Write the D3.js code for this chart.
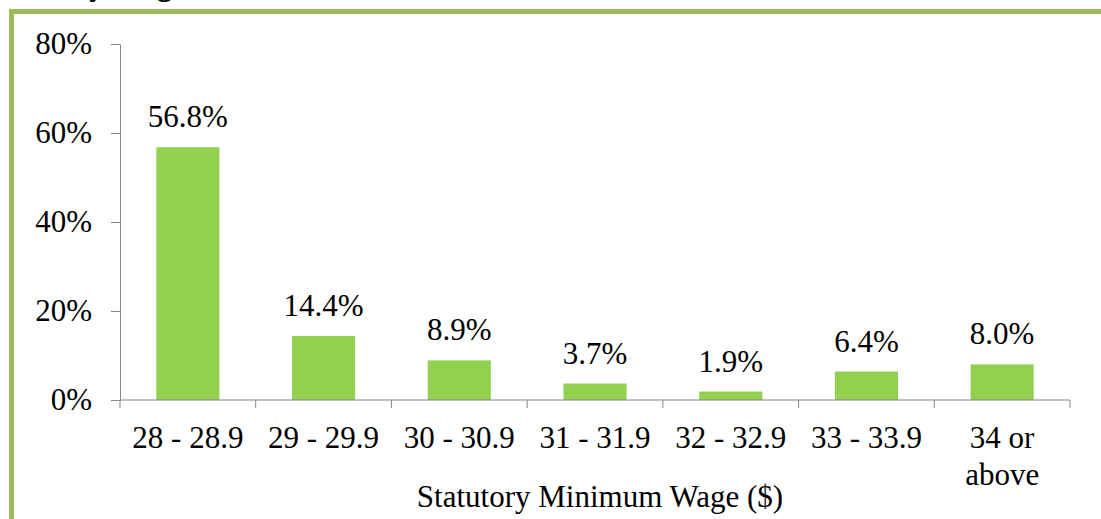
<!DOCTYPE html>
<html>
<head>
<meta charset="utf-8">
<script src="https://cdn.jsdelivr.net/npm/d3@7"></script>
<style>
  body { margin: 0; background: #fff; }
</style>
</head>
<body>
<svg id="chart" width="1101" height="519"></svg>
<script>
// data
var categories = ["28 - 28.9", "29 - 29.9", "30 - 30.9", "31 - 31.9", "32 - 32.9", "33 - 33.9", "34 or above"];
var catLines = [["28 - 28.9"], ["29 - 29.9"], ["30 - 30.9"], ["31 - 31.9"], ["32 - 32.9"], ["33 - 33.9"], ["34 or", "above"]];
var shares = [0.568, 0.144, 0.089, 0.037, 0.019, 0.064, 0.080];
var yTicks = [0, 0.2, 0.4, 0.6, 0.8];
var xTitle = "Statutory Minimum Wage ($)";

var serif = "'Liberation Serif'";
var svg = d3.select("#chart");
var axisColor = "#868686";
var fontSize = 31;

// frame left over from the slide (top + left green edge)
svg.append("rect").attr("x", 9).attr("y", 9).attr("width", 1092).attr("height", 5).attr("fill", "#9BBB59");
svg.append("rect").attr("x", 9).attr("y", 9).attr("width", 5).attr("height", 510).attr("fill", "#9BBB59");
// cut-off title above the frame
svg.append("text").attr("x", 72).attr("y", -5)
  .style("font-family", serif).style("font-size", "31px").style("font-weight", "bold")
  .text("by Wage");

var x = d3.scaleBand().domain(categories).range([120, 1070]).padding(0);
var y = d3.scaleLinear().domain([0, 0.8]).range([400, 44]);
var barW = x.bandwidth() * 0.465;

// y axis
var yAxis = svg.append("g")
  .attr("transform", "translate(120,0)")
  .call(d3.axisLeft(y).tickValues(yTicks).tickFormat(d3.format(".0%")).tickSizeInner(9).tickSizeOuter(0).tickPadding(19));
yAxis.attr("font-family", null).attr("font-size", null);
yAxis.select(".domain").attr("stroke", axisColor);
yAxis.selectAll(".tick line").attr("stroke", axisColor);
yAxis.selectAll(".tick text")
  .style("font-size", fontSize + "px")
  .style("font-family", serif)
  .attr("fill", "#000");

// bars
svg.selectAll(".bar")
  .data(shares)
  .enter().append("rect")
  .attr("class", "bar")
  .attr("x", function(d, i) { return x(categories[i]) + (x.bandwidth() - barW) / 2; })
  .attr("y", function(d) { return y(d); })
  .attr("width", barW)
  .attr("height", function(d) { return y(0) - y(d); })
  .attr("fill", "#92D050");

// value labels
svg.selectAll(".val")
  .data(shares)
  .enter().append("text")
  .attr("class", "val")
  .attr("x", function(d, i) { return x(categories[i]) + x.bandwidth() / 2; })
  .attr("y", function(d) { return y(d) - 20; })
  .attr("text-anchor", "middle")
  .style("font-family", serif)
  .style("font-size", fontSize + "px")
  .text(function(d) { return d3.format(".1%")(d); });

// x axis line and boundary ticks
svg.append("line")
  .attr("x1", x.range()[0]).attr("x2", x.range()[1])
  .attr("y1", y(0)).attr("y2", y(0))
  .attr("stroke", axisColor);
var bounds = categories.map(function(c) { return x(c); }).concat([x.range()[1]]);
svg.selectAll(".xtick")
  .data(bounds)
  .enter().append("line")
  .attr("class", "xtick")
  .attr("x1", function(d) { return d; }).attr("x2", function(d) { return d; })
  .attr("y1", y(0)).attr("y2", y(0) + 8)
  .attr("stroke", axisColor);

// category labels
var cat = svg.selectAll(".cat")
  .data(catLines)
  .enter().append("text")
  .attr("class", "cat")
  .attr("text-anchor", "middle")
  .style("font-family", serif)
  .style("font-size", fontSize + "px");
cat.each(function(lines, i) {
  var cx = x(categories[i]) + x.bandwidth() / 2;
  d3.select(this).selectAll("tspan")
    .data(lines)
    .enter().append("tspan")
    .attr("x", cx)
    .attr("y", function(d, j) { return 448 + j * 37; })
    .text(function(d) { return d; });
});

// axis title
svg.append("text")
  .attr("x", 600)
  .attr("y", 507)
  .attr("text-anchor", "middle")
  .style("font-family", serif)
  .style("font-size", fontSize + "px")
  .text(xTitle);
</script>
</body>
</html>
